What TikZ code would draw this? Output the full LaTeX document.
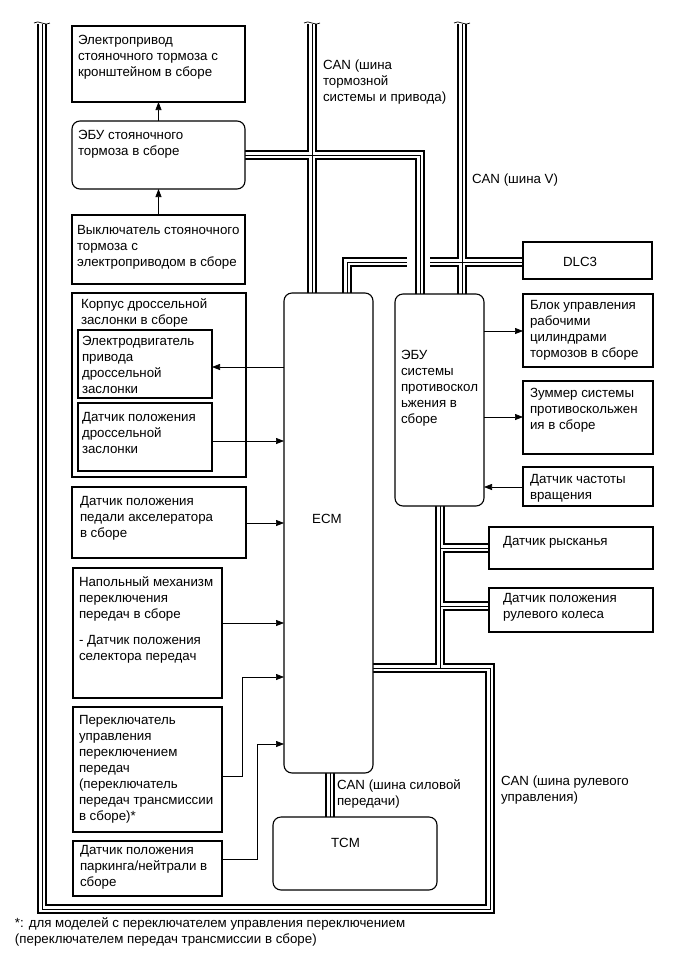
\documentclass[tikz,border=0pt]{standalone}
\usepackage{fontspec}
\setmainfont{Liberation Sans}
\usetikzlibrary{arrows.meta,backgrounds}
\newcommand\mkbox[6]{\node[#6, minimum width={#4-#2}, minimum height={#5-#3}] (#1) at (#2,#3) {};}
\newcommand\mktxt[4]{\node[txt] (#1) at (#2,#3) {\rule{0pt}{10pt}#4};}
\begin{document}
\begin{tikzpicture}[x=1pt,y=-1pt,
  box/.style={draw, line width=1.1pt, fill=white, inner sep=0pt, outer sep=0pt, anchor=north west},
  rbox/.style={box, rounded corners=8pt},
  txt/.style={inner sep=0pt, outer sep=0pt, anchor=north west, align=left, font=\fontsize{13.3}{16}\selectfont},
  ctxt/.style={inner sep=0pt, font=\fontsize{13.3}{16}\selectfont},
  sig/.style={line width=0.7pt, -{Triangle[length=8pt,width=6pt]}},
  brk/.style={line width=0.7pt}
  ]
\useasboundingbox (0,0) rectangle (686,954);

% boxes
\mkbox{b1}{72}{26}{245}{102}{box}
\mkbox{b2}{72}{121}{245}{189}{rbox}
\mkbox{b3}{72}{215}{245}{284}{box}
\mkbox{b4}{72}{293}{246}{477}{box}
\mkbox{b4a}{78}{330}{212}{398}{box}
\mkbox{b4b}{78}{403}{212}{471}{box}
\mkbox{b5}{72}{487}{246}{558}{box}
\mkbox{b6}{73}{568}{222}{698}{box}
\mkbox{b7}{73}{707}{222}{832}{box}
\mkbox{b8}{73}{841}{222}{896}{box}
\mkbox{ecm}{284}{293}{373}{773}{rbox}
\mkbox{tcm}{273}{817}{437}{890}{rbox}
\mkbox{ebu}{395}{294}{484}{506}{rbox}
\mkbox{blk}{523}{294}{653}{367}{box}
\mkbox{zum}{523}{381}{653}{454}{box}
\mkbox{spd}{523}{467}{653}{506}{box}
\mkbox{yaw}{489}{527}{653}{569}{box}
\mkbox{whl}{489}{588}{653}{632}{box}
\mkbox{dlc}{523}{242}{652}{279}{box}

% texts
\mktxt{t1}{78}{34.5}{Электропривод\\стояночного тормоза с\\кронштейном в сборе}
\mktxt{t2}{78}{129.5}{ЭБУ стояночного\\тормоза в сборе}
\mktxt{t3}{77}{224.5}{Выключатель стояночного\\тормоза с\\электроприводом в сборе}
\mktxt{t4}{81}{298.5}{Корпус дроссельной\\заслонки в сборе}
\mktxt{t4a}{82}{335.5}{Электродвигатель\\привода\\дроссельной\\заслонки}
\mktxt{t4b}{82}{411.5}{Датчик положения\\дроссельной\\заслонки}
\mktxt{t5}{80}{495.5}{Датчик положения\\педали акселератора\\в сборе}
\mktxt{t6}{79}{576.5}{Напольный механизм\\переключения\\передач в сборе\\[10pt]- Датчик положения\\селектора передач}
\mktxt{t7}{79}{714.5}{Переключатель\\управления\\переключением\\передач\\(переключатель\\передач трансмиссии\\в сборе)*}
\mktxt{t8}{80}{844.5}{Датчик положения\\паркинга/нейтрали в\\сборе}
\node[ctxt] (tecm) at (327,519) {ECM};
\node[ctxt] (ttcm) at (345.5,843) {TCM};
\node[ctxt] (tdlc) at (580,262) {DLC3};
\mktxt{tebu}{401}{349.5}{ЭБУ\\системы\\противоскол\\ьжения в\\сборе}
\mktxt{tblk}{530}{299.5}{Блок управления\\рабочими\\цилиндрами\\тормозов в сборе}
\mktxt{tzum}{530}{387.5}{Зуммер системы\\противоскольжен\\ия в сборе}
\mktxt{tspd}{530}{473.5}{Датчик частоты\\вращения}
\mktxt{tyaw}{503}{535.5}{Датчик рысканья}
\mktxt{twhl}{503}{592.5}{Датчик положения\\рулевого колеса}
\mktxt{lb}{323}{59.5}{CAN (шина\\тормозной\\системы и привода)}
\mktxt{lv}{472}{173.5}{CAN (шина V)}
\mktxt{lp}{337}{779.5}{CAN (шина силовой\\передачи)}
\mktxt{ls}{501}{775.5}{CAN (шина рулевого\\управления)}
\mktxt{fn}{15}{917.5}{*: для моделей с переключателем управления переключением\\(переключателем передач трансмиссии в сборе)}

% bus coordinates
\coordinate (tL) at (42,24);
\coordinate (tB) at (312,24);
\coordinate (tV) at (462,24);
\coordinate (cL) at (42,909);
\coordinate (cR) at (490,909);
\coordinate (cT) at (490,668);
\coordinate (jS) at (440,668);
\coordinate (jY) at (440,548);
\coordinate (jW) at (440,606);
\coordinate (cB) at (420,155);
\coordinate (cV) at (347,262);
\coordinate (gL) at (407,262);
\coordinate (gR) at (430,262);
\coordinate (cP) at (330,795);

\begin{pgfonlayer}{background}
\foreach \w/\c in {10pt/black,5.2pt/white,1pt/black}{
  \draw[line width=\w, draw=\c, line join=miter]
    (tL) -- (cL) -- (cR) -- (cT) -- (ecm.east |- cT)
    (jS) -- (ebu.south -| jS)
    (jY) -- (yaw.west |- jY)
    (jW) -- (whl.west |- jW)
    (tB) -- (ecm.north -| tB)
    (b2.east |- cB) -- (cB) -- (ebu.north -| cB)
    (tV) -- (ebu.north -| tV)
    (ecm.north -| cV) -- (cV) -- (gL)
    (gR) -- (dlc.west |- gR)
    (ecm.south -| cP) -- (tcm.north -| cP);
}
\end{pgfonlayer}

% break marks at bus ends
\foreach \p in {tL,tB,tV}{
  \draw[brk] ([xshift=-8pt,yshift=1pt]\p) .. controls ([xshift=-4pt,yshift=5pt]\p) and ([xshift=4pt,yshift=-3pt]\p) .. ([xshift=8pt,yshift=1pt]\p);
}

% signal coordinates
\coordinate (s1) at (0,367);
\coordinate (s2) at (0,441);
\coordinate (s3) at (0,523);
\coordinate (s4) at (0,623);
\coordinate (s5) at (242,776);
\coordinate (s5b) at (242,677);
\coordinate (s6) at (257,859);
\coordinate (s6b) at (257,744);
\coordinate (s7) at (0,331);
\coordinate (s8) at (0,417);
\coordinate (s9) at (0,487);

\draw[sig] (b2.north) -- (b1.south);
\draw[sig] (b3.north) -- (b2.south);
\draw[sig] (ecm.west |- s1) -- (b4a.east |- s1);
\draw[sig] (b4b.east |- s2) -- (ecm.west |- s2);
\draw[sig] (b5.east |- s3) -- (ecm.west |- s3);
\draw[sig] (b6.east |- s4) -- (ecm.west |- s4);
\draw[sig] (b7.east |- s5) -- (s5) -- (s5b) -- (ecm.west |- s5b);
\draw[sig] (b8.east |- s6) -- (s6) -- (s6b) -- (ecm.west |- s6b);
\draw[sig] (ebu.east |- s7) -- (blk.west |- s7);
\draw[sig] (ebu.east |- s8) -- (zum.west |- s8);
\draw[sig] (spd.west |- s9) -- (ebu.east |- s9);
\end{tikzpicture}
\end{document}
